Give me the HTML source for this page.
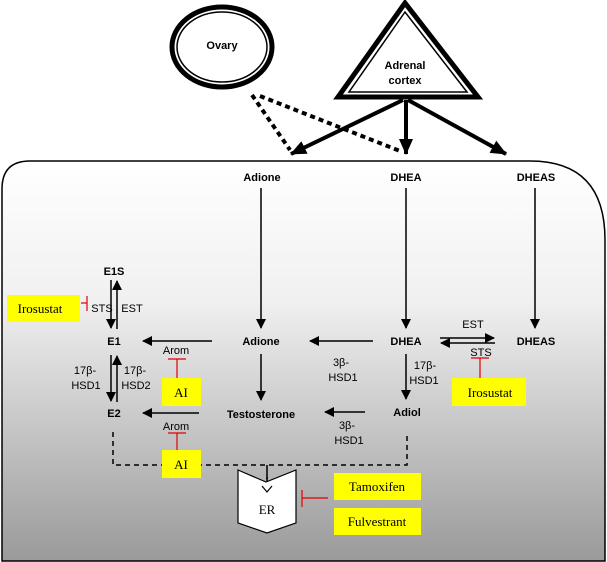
<!DOCTYPE html>
<html><head><meta charset="utf-8"><style>
body{margin:0;background:#fff}
svg{display:block;font-family:"Liberation Sans",sans-serif}
.b{font-weight:bold;font-size:11px}
.s{font-size:11px}
.t{font-family:"Liberation Serif",serif;font-size:13px}
</style></head><body>
<svg width="607" height="562" viewBox="0 0 607 562">
<defs>
<linearGradient id="g" x1="0" y1="0" x2="0" y2="1">
<stop offset="0" stop-color="#ffffff"/><stop offset="0.35" stop-color="#f0f0f0"/><stop offset="1" stop-color="#9a9a9a"/>
</linearGradient>
<marker id="a" markerWidth="10" markerHeight="10" refX="9" refY="5" orient="auto" markerUnits="userSpaceOnUse"><path d="M0,0 L10,5 L0,10 z" fill="#000"/></marker>
<marker id="A" markerWidth="16" markerHeight="14" refX="15" refY="7" orient="auto" markerUnits="userSpaceOnUse"><path d="M0,0 L16,7 L0,14 z" fill="#000"/></marker>
</defs>
<path d="M30,161 L530,161 Q605,161 605,240 L605,561 L2,561 L2,189 Q2,161 30,161 Z" fill="url(#g)" stroke="#000" stroke-width="1.5"/>
<ellipse cx="222" cy="47" rx="50" ry="40" fill="#fff" stroke="#000" stroke-width="5"/>
<ellipse cx="222" cy="47" rx="45" ry="35" fill="none" stroke="#000" stroke-width="1.5"/>
<text x="222" y="49" class="b" text-anchor="middle">Ovary</text>
<path d="M405,3 L338,97 L478,97 Z" fill="#fff" stroke="#000" stroke-width="5" stroke-linejoin="miter"/>
<path d="M405,12 L349,92 L467,92 Z" fill="none" stroke="#000" stroke-width="1.5"/>
<text x="405" y="69" class="b" text-anchor="middle">Adrenal</text>
<text x="405" y="84" class="b" text-anchor="middle">cortex</text>
<g stroke="#000" stroke-width="4">
<line x1="403" y1="100" x2="291" y2="154" marker-end="url(#A)"/>
<line x1="406" y1="100" x2="406" y2="154" marker-end="url(#A)"/>
<line x1="408" y1="100" x2="506" y2="154" marker-end="url(#A)"/>
</g>
<g stroke="#000" stroke-width="4" stroke-dasharray="5,4">
<line x1="252" y1="95" x2="290" y2="150"/>
<line x1="260" y1="96" x2="400" y2="151"/>
</g>
<g stroke="#000" stroke-width="1.5" fill="none" stroke-dasharray="5,4">
<path d="M113,432 L113,465 L407,465 L407,436"/>
<line x1="267" y1="465" x2="267" y2="488"/>
</g>
<g class="b" text-anchor="middle">
<text x="262" y="181">Adione</text><text x="406" y="181">DHEA</text><text x="536" y="181">DHEAS</text>
<text x="114" y="275">E1S</text><text x="114" y="345">E1</text><text x="114" y="417">E2</text>
<text x="261" y="345">Adione</text><text x="406" y="345">DHEA</text><text x="536" y="345">DHEAS</text>
<text x="261" y="418">Testosterone</text><text x="407" y="416">Adiol</text>
</g>
<g stroke="#000" stroke-width="1.5" fill="none">
<line x1="261" y1="188" x2="261" y2="328" marker-end="url(#a)"/>
<line x1="406" y1="188" x2="406" y2="328" marker-end="url(#a)"/>
<line x1="535" y1="188" x2="535" y2="328" marker-end="url(#a)"/>
<line x1="212" y1="341" x2="143" y2="341" marker-end="url(#a)"/>
<line x1="373" y1="341" x2="310" y2="341" marker-end="url(#a)"/>
<line x1="261" y1="354" x2="261" y2="400" marker-end="url(#a)"/>
<line x1="406" y1="354" x2="406" y2="399" marker-end="url(#a)"/>
<line x1="199" y1="413" x2="143" y2="413" marker-end="url(#a)"/>
<line x1="365" y1="412" x2="325" y2="412" marker-end="url(#a)"/>
<line x1="111" y1="280" x2="111" y2="328" marker-end="url(#a)"/>
<line x1="117" y1="329" x2="117" y2="281" marker-end="url(#a)"/>
<line x1="111" y1="355" x2="111" y2="401" marker-end="url(#a)"/>
<line x1="117" y1="402" x2="117" y2="356" marker-end="url(#a)"/>
<line x1="440" y1="338" x2="494" y2="338" marker-end="url(#a)"/>
<line x1="495" y1="343" x2="441" y2="343" marker-end="url(#a)"/>
</g>
<g class="s" text-anchor="middle">
<text x="102" y="312">STS</text><text x="132" y="312">EST</text>
<text x="85" y="374">17β-</text><text x="86" y="389">HSD1</text>
<text x="135" y="374">17β-</text><text x="136" y="389">HSD2</text>
<text x="176" y="354">Arom</text><text x="176" y="430">Arom</text>
<text x="341" y="366">3β-</text><text x="343" y="381">HSD1</text>
<text x="347" y="429">3β-</text><text x="349" y="444">HSD1</text>
<text x="425" y="369">17β-</text><text x="424" y="384">HSD1</text>
<text x="473" y="328">EST</text><text x="481" y="356">STS</text>
</g>
<g fill="#ffff00">
<rect x="7" y="295" width="73" height="27"/>
<rect x="162" y="378" width="39" height="28"/>
<rect x="162" y="450" width="39" height="28"/>
<rect x="452" y="378" width="74" height="28"/>
<rect x="334" y="473" width="87" height="27"/>
<rect x="334" y="508" width="87" height="27"/>
</g>
<g class="t" text-anchor="middle">
<text x="40" y="313">Irosustat</text>
<text x="181" y="397">AI</text><text x="181" y="469">AI</text>
<text x="490" y="397">Irosustat</text>
<text x="377" y="491">Tamoxifen</text><text x="377" y="526">Fulvestrant</text>
</g>
<g stroke="#e00000" stroke-width="1.2">
<line x1="81" y1="303" x2="87" y2="303"/><line x1="87" y1="296" x2="87" y2="311"/>
<line x1="177" y1="378" x2="177" y2="359"/><line x1="168" y1="359" x2="186" y2="359"/>
<line x1="177" y1="450" x2="177" y2="433"/><line x1="168" y1="433" x2="186" y2="433"/>
<line x1="480" y1="378" x2="480" y2="358"/><line x1="471" y1="358" x2="489" y2="358"/>
<line x1="328" y1="498" x2="302" y2="498"/><line x1="302" y1="490" x2="302" y2="507"/>
</g>
<path d="M238,470 L266,482 L296,470 L296,523 L267,533 L238,523 Z" fill="#fff" stroke="#000" stroke-width="1.2"/>
<line x1="267" y1="470" x2="267" y2="482" stroke="#000" stroke-width="1.5" stroke-dasharray="4,3"/>
<path d="M262,486 L267,492 L272,486" fill="none" stroke="#000" stroke-width="1.2"/>
<text x="267" y="514" class="t" font-size="12" text-anchor="middle">ER</text>
</svg>
</body></html>
